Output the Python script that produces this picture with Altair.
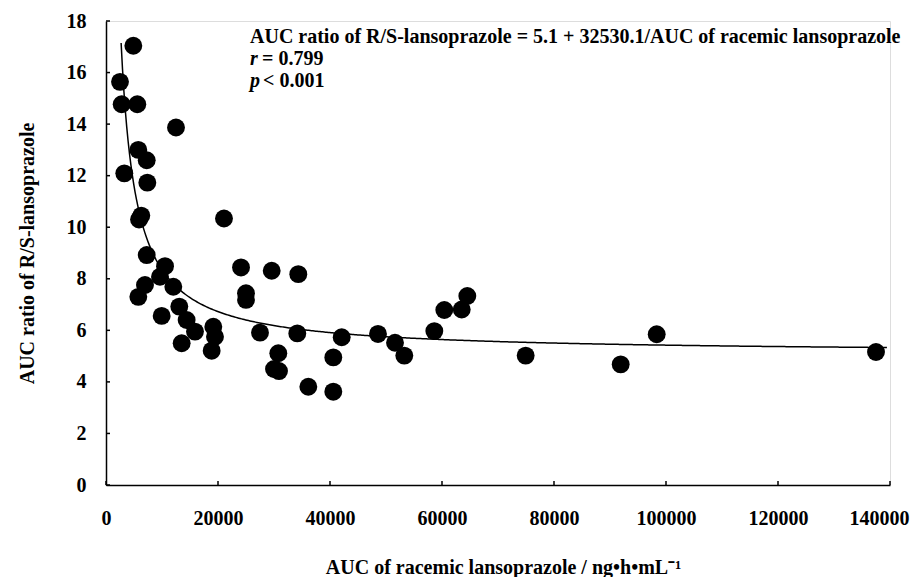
import altair as alt
import pandas as pd

# AUC of racemic lansoprazole (ng*h/mL) and AUC ratio of R/S-lansoprazole
auc_racemic = [
    4880, 2500, 2800, 5590, 12500, 5770, 7270, 3270, 7380, 21070,
    5900, 6300, 7270, 10540, 9640, 6960, 5770, 12020, 9940, 13090,
    14400, 13510, 15890, 19160, 19460, 18870, 24110, 25000, 25000, 29590,
    34340, 27500, 30770, 30000, 30890, 34160, 36130, 40590, 40590, 42090,
    48570, 51610, 53270, 58630, 60410, 63520, 64520, 74940, 91910, 98340,
    137500,
]
auc_ratio = [
    17.04, 15.64, 14.77, 14.77, 13.87, 13.00, 12.60, 12.09, 11.73, 10.34,
    10.30, 10.45, 8.92, 8.49, 8.08, 7.76, 7.30, 7.69, 6.56, 6.92,
    6.40, 5.50, 5.95, 6.14, 5.75, 5.21, 8.44, 7.44, 7.18, 8.31,
    8.18, 5.91, 5.11, 4.50, 4.42, 5.88, 3.81, 4.95, 3.62, 5.73,
    5.86, 5.52, 5.02, 5.97, 6.79, 6.81, 7.33, 5.02, 4.68, 5.85,
    5.16,
]

# Fitted curve: ratio = FIT_A + FIT_B / AUC (coefficients from the figure)
FIT_A = 5.1
FIT_B = 32530.1
CURVE_START = 2700
CURVE_END = 139500

x_ticks = [0, 20000, 40000, 60000, 80000, 100000, 120000, 140000]
y_ticks = [0, 2, 4, 6, 8, 10, 12, 14, 16, 18]

eq_line = "AUC ratio of R/S-lansoprazole = 5.1 + 32530.1/AUC of racemic lansoprazole"
r_label, r_value = "r", "= 0.799"
p_label, p_value = "p", "< 0.001"

FONT = "Liberation Serif"
FS = 20
W, H = 784, 464

pts = pd.DataFrame({"auc": auc_racemic, "ratio": auc_ratio})

xscale = alt.Scale(domain=[0, 140000], nice=False, zero=False)
yscale = alt.Scale(domain=[0, 18], nice=False, zero=False)

xaxis = alt.Axis(
    values=x_ticks, format="d", tickSize=0, labelPadding=23, grid=False,
    labelFont=FONT, labelFontSize=FS, labelFontWeight="bold", labelColor="black",
    labelOffset=alt.condition("datum.value == 140000", alt.value(-11), alt.value(0)),
    domainColor="black", domainWidth=1.5,
    title="AUC of racemic lansoprazole / ng•h•mL⁻¹",
    titleFont=FONT, titleFontSize=FS, titleFontWeight="bold", titleColor="black",
    titleX=397, titleY=88, titleAnchor="middle", titleAlign="center", titleBaseline="alphabetic",
    labelFlush=False, labelOverlap=False,
)
yaxis = alt.Axis(
    values=y_ticks, format="d", tickSize=0, labelPadding=20, grid=False,
    labelFont=FONT, labelFontSize=FS, labelFontWeight="bold", labelColor="black",
    domainColor="black", domainWidth=1.5,
    title="AUC ratio of R/S-lansoprazole",
    titleFont=FONT, titleFontSize=FS, titleFontWeight="bold", titleColor="black",
    titleX=-79, titleY=232, titleAngle=270, titleAlign="center", titleBaseline="middle",
    labelFlush=False, labelOverlap=False,
)

points = alt.Chart(pts).mark_circle(size=320, color="black", opacity=1).encode(
    x=alt.X("auc:Q", scale=xscale, axis=xaxis),
    y=alt.Y("ratio:Q", scale=yscale, axis=yaxis),
)

curve = (
    alt.Chart(alt.sequence(CURVE_START, CURVE_END, 250, as_="auc"))
    .transform_calculate(ratio=f"{FIT_A} + {FIT_B} / datum.auc")
    .mark_line(color="black", strokeWidth=1.5)
    .encode(x=alt.X("auc:Q", scale=xscale), y=alt.Y("ratio:Q", scale=yscale))
)

xt = alt.Chart(pd.DataFrame({"v": x_ticks})).mark_rule(color="black", strokeWidth=1.5).encode(
    x=alt.X("v:Q", scale=xscale), y=alt.value(H), y2=alt.value(H - 4)
)
yt = alt.Chart(pd.DataFrame({"v": y_ticks})).mark_rule(color="black", strokeWidth=1.5).encode(
    y=alt.Y("v:Q", scale=yscale), x=alt.value(0), x2=alt.value(4)
)

def txt(s, x, y, italic=False):
    return alt.Chart(pd.DataFrame({"t": [s]})).mark_text(
        font=FONT, fontSize=20, fontWeight="bold", fontStyle="italic" if italic else "normal",
        align="left", baseline="alphabetic", color="black",
    ).encode(text="t:N", x=alt.value(x), y=alt.value(y))

ann = (
    txt(eq_line, 144, 22)
    + txt(r_label, 144, 44, italic=True)
    + txt(r_value, 156, 44)
    + txt(p_label, 144, 66, italic=True)
    + txt(p_value, 157, 66)
)

chart = (
    alt.layer(curve, points, xt, yt, ann)
    .properties(
        width=W, height=H,
        autosize=alt.AutoSizeParams(type="none"),
        padding={"left": 98, "top": 13, "right": 20, "bottom": 92},
    )
    .configure_view(stroke=None)
    .configure(background="white")
)

chart.save("out.html", embed_options={"renderer": "svg", "actions": False})
